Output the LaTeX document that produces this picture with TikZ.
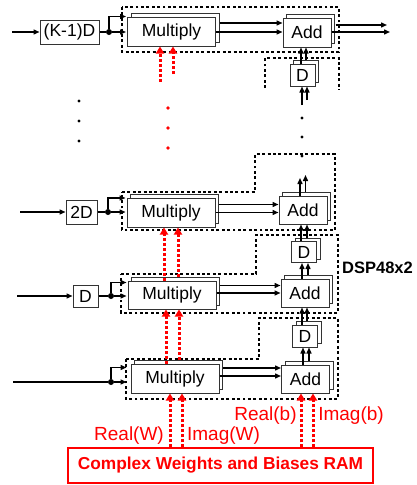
\documentclass[tikz,border=0pt]{standalone}
\usepackage{fontspec}
\setmainfont{Liberation Sans}
\usetikzlibrary{arrows.meta,calc,shadows}
\begin{document}
\begin{tikzpicture}[x=1pt,y=-1pt,
  box/.style={draw=black!80, line width=1pt, fill=white, inner sep=0pt, font=\fontsize{17.5}{20}\selectfont},
  stack/.style={box, copy shadow={shadow xshift=3.5pt, shadow yshift=3.5pt}},
  mult/.style={stack, minimum width=88pt, minimum height=29pt},
  addb/.style={stack, minimum width=48pt, minimum height=28pt},
  dlay/.style={stack, minimum width=25pt, minimum height=22pt},
  arr/.style={line width=1.4pt, -{Triangle[length=6pt,width=5pt]}},
  wire/.style={line width=1.4pt},
  jdot/.style={circle, fill=black, inner sep=0pt, minimum size=6pt},
  grp/.style={line width=2.9pt, dash pattern=on 2.9pt off 2.5pt},
  rarr/.style={red, line width=3pt, dash pattern=on 3pt off 2pt, -{Triangle[length=7pt,width=8pt]}},
  rlab/.style={text=red, inner sep=0pt, font=\fontsize{19}{22}\selectfont},
]
\useasboundingbox (0,0) rectangle (417,485);

% grouping outlines
\draw[grp] (122,7) rectangle (339,52);
\draw[grp] (265,88) -- (265,58) -- (339,58) -- (339,90);
\draw[grp] (122,192) -- (255,192) -- (255,154) -- (335,154) -- (335,230) -- (122,230) -- cycle;
\draw[grp] (121,274) -- (256,274) -- (256,235) -- (338,235) -- (338,313) -- (121,313) -- cycle;
\draw[grp] (126,359) -- (259,359) -- (259,318) -- (338,318) -- (338,399) -- (126,399) -- cycle;

% row 1
\coordinate (in1) at (12,32);
\node[box, minimum width=59pt, minimum height=24pt] (k1) at (69.5,32) {(K-1)D};
\node[jdot] (j1) at (109,32) {};
\node[mult] (m1) at (171.5,31.5) {Multiply};
\node[addb, minimum height=29pt] (a1) at (307,32.5) {Add};
\node[dlay] (d1) at (302.5,75) {D};
\coordinate (out1) at (387,25);
\coordinate (out2) at (390,32);

% row 2
\coordinate (in2) at (20,212);
\node[box, minimum width=31pt, minimum height=24pt] (k2) at (81.5,212) {2D};
\node[jdot] (j2) at (108,212) {};
\node[mult] (m2) at (171,212.5) {Multiply};
\node[addb] (a2) at (303,210) {Add};
\node[dlay, minimum height=21pt] (d2) at (304,252) {D};

% row 3
\coordinate (in3) at (17,296);
\node[box, minimum width=25pt, minimum height=22pt] (k3) at (85.5,296) {D};
\node[jdot] (j3) at (111,296) {};
\node[mult, minimum height=28pt] (m3) at (172,295) {Multiply};
\node[addb] (a3) at (305,293) {Add};
\node[dlay] (d3) at (305,336) {D};

% row 4
\coordinate (in4) at (13,382);
\node[jdot] (j4) at (111,382) {};
\node[mult] (m4) at (175,378.5) {Multiply};
\node[addb] (a4) at (305.5,379) {Add};

% RAM and labels
\node[draw=red, line width=1.5pt, fill=white, text=red, inner sep=0pt,
      minimum width=305pt, minimum height=35pt,
      font=\bfseries\fontsize{17.3}{20}\selectfont] (ram) at (220.5,465.5) {Complex Weights and Biases RAM};
\node[rlab] (lrw) at (129,436) {Real(W)};
\node[rlab] (liw) at (223.5,436) {Imag(W)};
\node[rlab] (lrb) at (265.5,416) {Real(b)};
\node[rlab] (lib) at (351,416) {Imag(b)};
\node[anchor=west, inner sep=0pt, font=\bfseries\fontsize{16.5}{19}\selectfont] (dsp) at (342,268) {DSP48x2};

% inputs and branches
\draw[arr] (in1) -- (k1.west);
\draw[wire] (k1.east) -- (j1);
\draw[arr, shorten >=1pt] (j1) -- (m1.west |- j1);
\draw[arr, shorten >=1pt] (j1) |- ($(m1.north west)+(0,0)$);

\draw[arr] (in2) -- (k2.west);
\draw[wire] (k2.east) -- (j2);
\draw[arr, shorten >=1pt] (j2) -- (m2.west |- j2);
\draw[arr, shorten >=1pt] (j2) |- ($(m2.north west)+(0,0.5)$);

\draw[arr] (in3) -- (k3.west);
\draw[wire] (k3.east) -- (j3);
\draw[arr, shorten >=1pt] (j3) -- (m3.west |- j3);
\draw[arr, shorten >=1pt] (j3) |- ($(m3.north west)+(0,2)$);

\draw[wire] (in4) -- (j4);
\draw[arr, shorten >=4pt] (j4) -- (m4.west |- j4);
\draw[arr, shorten >=4pt] (j4) |- ($(m4.north west)+(0,4)$);

% multiply -> add
\draw[arr] ($(m1.east |- 0,23)+(3.5,0)$) -- (a1.west |- 0,23);
\draw[arr] (m1.east |- 0,32) -- (a1.west |- 0,32);
\draw[arr] ($(m2.east |- 0,204.5)+(3.5,0)$) -- (a2.west |- 0,204.5);
\draw[arr] (m2.east |- 0,212.5) -- (a2.west |- 0,212.5);
\draw[arr] ($(m3.east |- 0,285.5)+(3.5,0)$) -- (a3.west |- 0,285.5);
\draw[arr] (m3.east |- 0,293) -- (a3.west |- 0,293);
\draw[arr] ($(m4.east |- 0,368)+(3.5,0)$) -- (a4.west |- 0,368);
\draw[arr] (m4.east |- 0,376) -- (a4.west |- 0,376);

% outputs
\draw[arr] ($(a1.east |- out1)+(4,0)$) -- (out1);
\draw[arr] (a1.east |- out2) -- (out2);

% vertical chain
\draw[arr] (d1.north -| 301,0) -- (a1.south -| 301,0);
\draw[arr] ($(d1.north -| 306,0)+(0,-3.5)$) -- (a1.south -| 306,0);
\coordinate (c1) at (302,105);
\coordinate (c2) at (307,100);
\draw[arr] (c1) -- (d1.south -| c1);
\draw[arr] (c2) -- (d1.south -| c2);

\coordinate (c3) at (300,178);
\coordinate (c4) at (305.5,175);
\draw[arr] (a2.north -| c3) -- (c3);
\draw[arr] ($(a2.north -| c4)+(0,-3.5)$) -- (c4);
\draw[arr] (d2.north -| 301,0) -- (a2.south -| 301,0);
\draw[arr] ($(d2.north -| 307,0)+(0,-3.5)$) -- (a2.south -| 307,0);
\draw[arr] (a3.north -| 302,0) -- (d2.south -| 302,0);
\draw[arr] ($(a3.north -| 308,0)+(0,-3.5)$) -- (d2.south -| 308,0);
\draw[arr] (d3.north -| 302,0) -- (a3.south -| 302,0);
\draw[arr] ($(d3.north -| 307,0)+(0,-3.5)$) -- (a3.south -| 307,0);
\draw[arr] (a4.north -| 303,0) -- (d3.south -| 303,0);
\draw[arr] ($(a4.north -| 309,0)+(0,-3.5)$) -- (d3.south -| 309,0);

% ellipsis dots
\foreach \yy in {118,137,156} \fill (302,\yy) circle (1.6);
\foreach \yy in {101,121,141} \fill (79,\yy) circle (1.6);
\foreach \yy in {108,128,148} \fill[red] (168,\yy) circle (1.8);

% red weight paths
\coordinate (r1) at (160,82);
\coordinate (r2) at (173,74);
\draw[rarr] (r1) -- (m1.south -| r1);
\draw[rarr] (r2) -- (m1.south -| r2);
\draw[rarr] (m3.north -| 164,0) -- (m2.south -| 164,0);
\draw[rarr] ($(m3.north -| 178,0)+(0,-3.5)$) -- (m2.south -| 178,0);
\draw[rarr] (m4.north -| 166,0) -- (m3.south -| 166,0);
\draw[rarr] ($(m4.north -| 179,0)+(0,-3.5)$) -- (m3.south -| 179,0);
\draw[rarr] (ram.north -| 170,0) -- (m4.south -| 170,0);
\draw[rarr] (ram.north -| 182,0) -- (m4.south -| 182,0);
\draw[rarr] (ram.north -| 301,0) -- (a4.south -| 301,0);
\draw[rarr] (ram.north -| 313,0) -- (a4.south -| 313,0);
\end{tikzpicture}
\end{document}
